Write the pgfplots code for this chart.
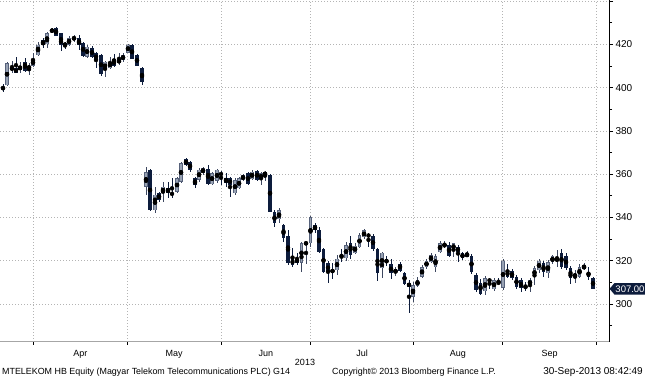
\documentclass[border=0pt]{standalone}
\usepackage{pgfplots}
\pgfplotsset{compat=1.18}
\usepackage{pgfplotstable}
\usepackage{fontspec}
\setmainfont{Liberation Sans}
\definecolor{navy}{HTML}{0D1C3C}
\definecolor{upfill}{HTML}{98A2B3}
\definecolor{upedge}{HTML}{56617A}
\definecolor{upwick}{HTML}{3D4760}
\definecolor{gridc}{HTML}{B4B4B4}

\pgfplotstableread{
x o h l c
3 400 401.5 398 399.5
16 409 414.2 406.5 406.7
25 411.8 413.6 407.2 407.6
43 422 422.8 418.2 419.7
56 427.4 428.1 423.6 423.8
61 425 425.4 417 419.7
65 420.7 421.2 417.7 419.2
79 422.8 424.3 417.4 419.7
83 420.5 421.2 414.3 414.6
92 418.2 419 413.5 414
96 415.8 416.6 408.9 412.7
101 415 415.5 405.5 406.1
114 413.1 415.5 409.6 410
132 419.7 420.3 413 413.1
137 415 415.3 409.8 410
142 408.9 409.4 401.2 402.7
150 361.9 362.3 343 343.4
159 351.1 351.9 347.3 348
168 353.5 356.5 348.8 351.1
172 351.4 358.1 348.8 350.4
186 366.8 367.4 363.8 364.2
190 365.8 366.3 361 361.9
195 358.1 358.8 353.5 355
208 362.3 364.2 355 355.4
221 360.3 361.6 355 359.8
226 358.1 360.4 354.2 355.8
230 358.1 358.5 349.6 355
248 360.4 361 355 355.4
257 361.6 362 357 357.3
270 359.6 360.3 342.3 342.6
274.5 342.5 343.4 335.7 337.3
283.5 336.5 337 328.8 330.5
288 331.4 334.2 318 319
292.5 320.8 325.9 317 318
297 321 323.7 318 319
315 336.5 337.3 333 334.2
319 334.2 335.5 323.7 324
323.5 325.4 326 314.5 314.8
328 318.8 320 309.8 314.8
332.5 316 319 311.5 314.5
341.5 322.6 325.2 319.3 321.2
350.5 328 331.4 321 322.6
368.5 332.5 332.8 326.5 330.8
373 331.4 332.2 324.5 325.4
377.5 325.4 326 310.6 314.3
386.5 320.7 322 317.5 319
391 318.4 320.7 311.4 314.2
400 318.7 319.5 315 315.4
404.5 314.4 315 309 309.3
409 309.8 311 295.7 308
449 327.2 328.5 321.7 322.2
458 326.3 327.2 319.5 324
462.5 323.5 324 320.5 321.2
471.5 322.2 323 313.8 315
476 313.4 314.5 305.6 306.4
480.5 309.8 311.5 304.2 304.8
489.5 311.6 312 306.8 310.3
498.5 310.3 312 308.6 309.3
507.5 315.6 318.3 311.9 312.5
512 315.2 316 311 312
516.5 312.5 313.5 307 308
521 311 312 305.5 307.4
525.5 308.3 310.4 305.8 307.4
543.5 318.8 320 312.6 315
561.5 323.5 325.4 316 317
566 322 323.5 315.5 316.5
570.5 316.6 317.5 309.1 312
588.5 314.8 317 311 312.5
593 312 312.3 306.8 307
}\downtab

\pgfplotstableread{
x o h l c
7 401 412 400.5 411.3
12 408 412.2 406.7 409.5
20 408 411.7 406.8 410
29 408.8 411.2 405.8 409.8
33 410 415.8 409.6 413.1
38 415 421.2 414.6 419.7
47 420.1 425.6 418.2 425.1
52 426 427.4 425.1 426.6
69 419.7 423.8 419.2 422.8
74 422 424.3 421.2 423.5
87 414.3 419.7 413.5 418.9
105 408.1 412.3 405 412
110 408.9 414.3 408.4 412
119 411.2 416.1 410.4 413.1
123 412.7 415.8 412 415
128 416.1 420.3 415.8 419.7
146 354.2 363.4 350.4 361
155 343.4 354.2 342.2 350.4
163 351.1 356.5 347.3 354.2
177 351.9 358.8 351.1 358.1
181 356.5 365.8 356 365
199 357.5 363 356.5 362
203 360.5 363.4 359.6 362.8
212 355.4 361 355 360.4
217 357 362.6 356 362
235 351.1 358.1 350.4 357.3
239 353.5 358.5 353 358.1
243 357.3 360 357 359.6
252 357.6 361.9 357.3 361.2
261 357.6 361.2 355 360.4
265 359.1 361.6 357 361.2
279 339.1 344.2 337.3 343.4
301.5 319 328.8 314.7 328.2
306 327.8 328.8 318.4 328.3
310.5 328 340.6 326.5 340
337 315.6 322.6 313.5 321
346 321.2 328.5 320 327.2
355 323.5 328 323 327
359.5 326.3 332.6 325.8 331.8
364 330.9 334.6 330 334
382 316.6 324.2 311.9 323.6
395.5 314.4 317 313 316
413 303.3 310 301 308.8
417.5 308.3 312.3 307.7 311
422 312.5 318 312 317
426.5 317 321 316 320
431 319.4 323.7 319 322.6
435.5 317 323 314.9 322.2
440 324 329 323.6 328
444.5 326.3 329 325.8 328
453.5 325 328.4 321.8 328
467 321.8 324.4 321.5 323.5
485 306 313 304 312
494 306.8 312 306 311
503 307.4 320.6 306.5 320
530 308.8 312 305.5 311
534.5 312.5 317.5 309 316.6
539 315.7 321 314.5 320
548 314.2 320.5 312 319.4
552.5 319.4 322.5 318.5 322
557 320 325 317.3 321
575 312.5 315.7 309.6 314
579.5 312.5 318.5 312 317
584 316 319 315.5 318
}\uptab

\begin{document}
\begin{tikzpicture}[x=1pt,y=1pt]
\path[use as bounding box] (0,0) rectangle (645,-380);
\begin{axis}[
  at={(0,0)}, anchor=north west,
  scale only axis, width=609pt, height=341.7pt,
  xmin=0, xmax=609, ymin=282.6, ymax=440.45,
  clip=false,
  axis x line*=bottom, axis y line*=right,
  x axis line style={draw=gray!70, line width=0.6pt},
  y axis line style={draw=black, line width=0.8pt},
  tick align=outside,
  major tick length=4pt, minor tick length=3pt,
  ytick={300,320,340,360,380,400,420,440},
  yticklabels={300,320,340,360,380,400,420,{}},
  minor ytick={290,310,330,350,370,390,410,430},
  ymajorgrids,
  xtick={80.3,174.2,265.9,362,457.8,549.5},
  xticklabels={Apr,May,Jun,Jul,Aug,Sep},
  minor xtick={33.3,127.3,221,310.7,413.3,502.3,596.7},
  xminorgrids,
  major x tick style={draw=none},
  minor x tick style={draw=black, line width=0.6pt},
  y tick style={draw=black, line width=0.7pt},
  major grid style={gridc, dash pattern=on 1pt off 2pt, line width=0.7pt},
  minor grid style={gridc, dash pattern=on 1pt off 2pt, line width=0.7pt},
  yticklabel style={font=\fontsize{10}{12}\selectfont, anchor=west, xshift=-1pt},
  xticklabel style={font=\fontsize{9}{10}\selectfont, anchor=north, yshift=-1pt},
]
% wicks
\addplot[only marks, mark=none, forget plot, error bars/.cd, y dir=both, y explicit, error mark=none,
  error bar style={draw=navy, line width=0.8pt}]
  table[x=x, y expr={(\thisrow{h}+\thisrow{l})/2}, y error expr={(\thisrow{h}-\thisrow{l})/2}] {\downtab};
\addplot[only marks, mark=none, forget plot, error bars/.cd, y dir=both, y explicit, error mark=none,
  error bar style={draw=upwick, line width=0.8pt}]
  table[x=x, y expr={(\thisrow{h}+\thisrow{l})/2}, y error expr={(\thisrow{h}-\thisrow{l})/2}] {\uptab};
% bodies
\addplot[only marks, mark=none, forget plot, error bars/.cd, y dir=both, y explicit, error mark=none,
  error bar style={draw=navy, line width=3.6pt}]
  table[x=x, y expr={(\thisrow{o}+\thisrow{c})/2}, y error expr={max(abs(\thisrow{o}-\thisrow{c})/2,0.35)}] {\downtab};
\addplot[only marks, mark=none, forget plot, error bars/.cd, y dir=both, y explicit, error mark=none,
  error bar style={draw=upedge, line width=3.6pt}]
  table[x=x, y expr={(\thisrow{o}+\thisrow{c})/2}, y error expr={max(abs(\thisrow{o}-\thisrow{c})/2,0.35)}] {\uptab};
\addplot[only marks, mark=none, forget plot, error bars/.cd, y dir=both, y explicit, error mark=none,
  error bar style={draw=upfill, line width=1.8pt}]
  table[x=x, y expr={(\thisrow{o}+\thisrow{c})/2}, y error expr={max(abs(\thisrow{o}-\thisrow{c})/2-0.25,0.1)}] {\uptab};
\end{axis}
% last price label
\fill[navy] (609.6,-288.8) -- (614.5,-283) -- (645,-283) -- (645,-294.6) -- (614.5,-294.6) -- cycle;
\node[text=white, font=\fontsize{9.5}{10}\selectfont, inner sep=0pt] at (630,-288.8) {307.00};
% texts
\node[font=\fontsize{9}{10}\selectfont, inner sep=0pt] at (305,-362) {2013};
\node[font=\fontsize{8.9}{10}\selectfont, inner sep=0pt, anchor=west] at (2,-372.5) {MTELEKOM HB Equity (Magyar Telekom Telecommunications PLC) G14};
\node[font=\fontsize{8.9}{10}\selectfont, inner sep=0pt, anchor=west] at (332,-372.5) {Copyright© 2013 Bloomberg Finance L.P.};
\node[font=\fontsize{10}{10}\selectfont, inner sep=0pt, anchor=east] at (643,-372.5) {30-Sep-2013 08:42:49};
\end{tikzpicture}
\end{document}
